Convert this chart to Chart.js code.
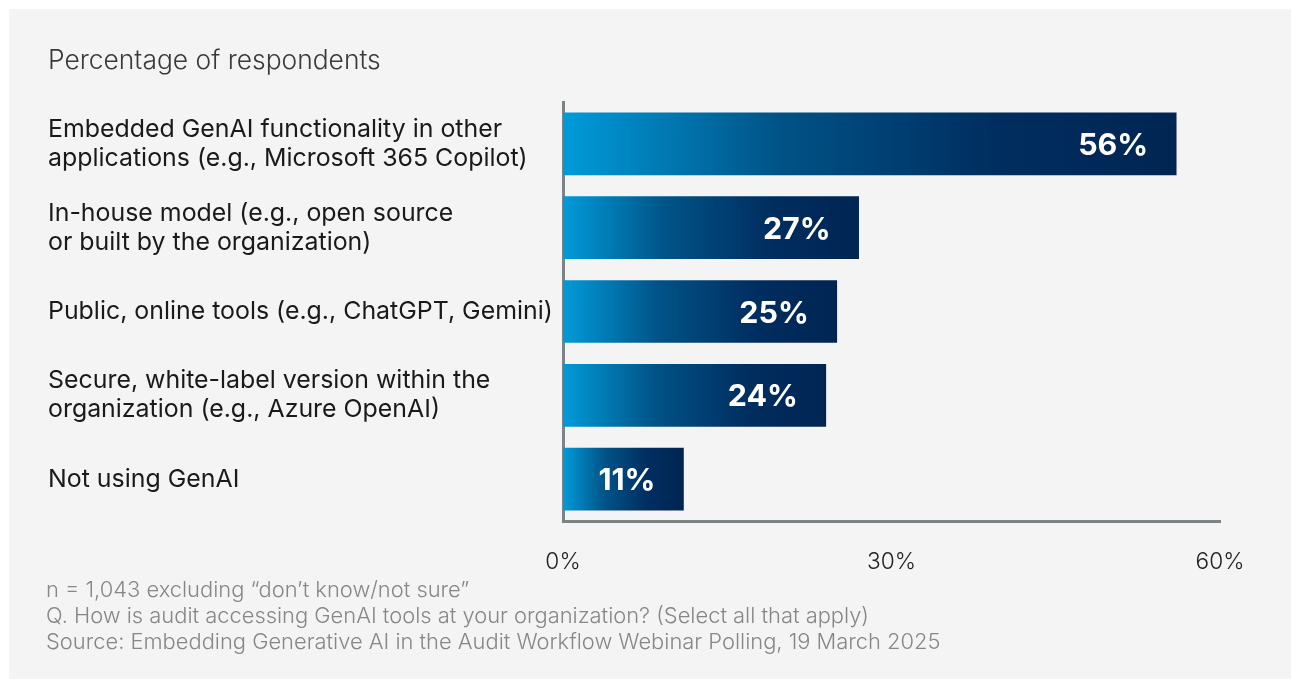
<!DOCTYPE html>
<html>
<head>
<meta charset="utf-8">
<script src="https://cdn.jsdelivr.net/npm/chart.js@4"></script>
<style>
  body { margin: 0; background: #fff; }
  #panel { position: absolute; left: 9px; top: 9px; width: 1282px; height: 670px; background: #f4f4f4; }
  #wrap { position: absolute; left: 0; top: 0; width: 1291px; height: 681px; }
  .txt { position: absolute; font-family: Inter, sans-serif; font-weight: 300; white-space: nowrap; }
  #title { left: 48px; top: 44px; font-size: 23px; line-height: 30px; color: #3a3a3a; }
  #notes { left: 46px; top: 576px; font-size: 19px; line-height: 26px; color: #878787; }
</style>
</head>
<body>
<div id="panel"></div>
<div id="wrap"><canvas id="myChart" width="1291" height="681"></canvas></div>
<div id="title" class="txt">Percentage of respondents</div>
<div id="notes" class="txt">
  n = 1,043 excluding “don’t know/not sure”<br>
  Q. How is audit accessing GenAI tools at your organization? (Select all that apply)<br>
  Source: Embedding Generative AI in the Audit Workflow Webinar Polling, 19 March 2025
</div>
<script>
const categories = [
    ["Embedded GenAI functionality in other", "applications (e.g., Microsoft 365 Copilot)"],
    ["In-house model (e.g., open source", "or built by the organization)"],
    ["Public, online tools (e.g., ChatGPT, Gemini)"],
    ["Secure, white-label version within the", "organization (e.g., Azure OpenAI)"],
    ["Not using GenAI"]
];
const values = [56, 27, 25, 24, 11];
const tickValues = [0, 30, 60];

const axisColor = "#7b8587";
const FONT = "Inter, sans-serif";

// pick a font size so a string gets the width it has in the original
const measureCtx = document.createElement("canvas").getContext("2d");
function fitSize(text, weight, width){
    measureCtx.font = `${weight} 100px ${FONT}`;
    return Math.round(width / measureCtx.measureText(text).width * 1000) / 10;
}

const labelSize = fitSize("Embedded GenAI functionality in other", 400, 454);
const tickSize = fitSize("60%", 300, 49);
const valueSize = fitSize("56%", 700, 70);
document.getElementById("title").style.fontSize = fitSize("Percentage of respondents", 300, 333) + "px";
document.getElementById("notes").style.fontSize =
    fitSize("Source: Embedding Generative AI in the Audit Workflow Webinar Polling, 19 March 2025", 300, 894) + "px";

// gradient over each bar, light blue on the left to navy on the right
function barGradient(context){
    const chart = context.chart;
    const xScale = chart.scales.x;
    if(!chart.chartArea || !xScale){
        return "#003a6e";
    }
    const x0 = xScale.getPixelForValue(0);
    const x1 = xScale.getPixelForValue(values[context.dataIndex]);
    const g = chart.ctx.createLinearGradient(x0, 0, x1, 0);
    g.addColorStop(0, "#009bd9");
    g.addColorStop(0.35, "#005387");
    g.addColorStop(0.7, "#002e60");
    g.addColorStop(1, "#002553");
    return g;
}

const valueLabels = {
    id: "valueLabels",
    afterDatasetsDraw(chart){
        const ctx = chart.ctx;
        const meta = chart.getDatasetMeta(0);
        ctx.save();
        ctx.fillStyle = "#fff";
        ctx.font = `700 ${valueSize}px ${FONT}`;
        ctx.textAlign = "right";
        ctx.textBaseline = "middle";
        meta.data.forEach((bar, i) => {
            ctx.fillText(values[i] + "%", bar.x - 28, bar.y + 2);
        });
        ctx.restore();
    }
};

new Chart("myChart", {
    type: "bar",
    data: {
        labels: categories,
        datasets: [{
            data: values,
            backgroundColor: barGradient,
            barThickness: 62,
            borderWidth: 0
        }]
    },
    options: {
        indexAxis: "y",
        responsive: false,
        animation: false,
        layout: { padding: { left: 48, top: 102, right: 71, bottom: 100 } },
        plugins: {
            legend: { display: false },
            tooltip: { enabled: false }
        },
        scales: {
            x: {
                min: 0,
                max: 60,
                afterBuildTicks: (scale) => {
                    scale.ticks = tickValues.map(v => ({ value: v }));
                },
                afterFit: (scale) => { scale.height = 60; },
                grid: { display: false, drawTicks: false },
                border: { display: true, color: axisColor, width: 3 },
                ticks: {
                    padding: 28,
                    color: "#222",
                    font: { family: FONT, size: tickSize, weight: 300 },
                    callback: (v) => v + "%"
                }
            },
            y: {
                afterFit: (scale) => { scale.width = 515; },
                grid: { display: false, drawTicks: false },
                border: { display: true, color: axisColor, width: 3 },
                ticks: {
                    crossAlign: "far",
                    color: "#1a1a1a",
                    font: { family: FONT, size: labelSize, lineHeight: 29 / labelSize }
                }
            }
        }
    },
    plugins: [valueLabels]
});
</script>
</body>
</html>
